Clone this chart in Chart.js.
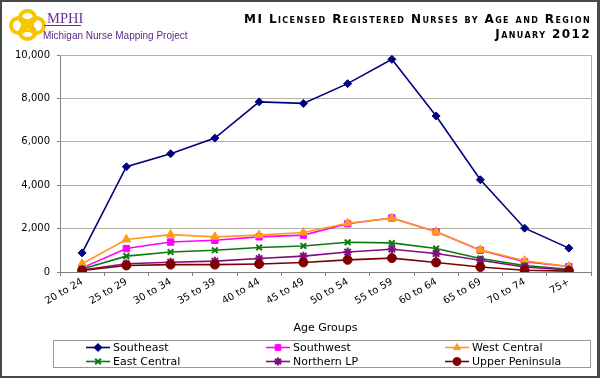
<!DOCTYPE html>
<html>
<head>
<meta charset="utf-8">
<script src="https://cdn.jsdelivr.net/npm/chart.js@4/dist/chart.umd.min.js"></script>
<style>
  html, body { margin: 0; padding: 0; background: #fff; }
  #wrap { position: relative; width: 600px; height: 378px; overflow: hidden; background: #fff; }
  #frame { position: absolute; left: 0; top: 0; width: 595px; height: 374px; border: 2px solid #4a4a4a; border-width: 2px 3px 2px 2px; box-sizing: content-box; pointer-events: none; z-index: 3; }
  #chart { position: absolute; left: 0; top: 0; }
  #logo { position: absolute; left: 9px; top: 9px; width: 38px; height: 32px; z-index: 2; }
  .ring { position: absolute; border: 4px solid #f7c600; border-radius: 50%; box-sizing: border-box; }
  .sq { position: absolute; border: 2px solid #f7c600; box-sizing: border-box; }
  #mphi { position: absolute; left: 47px; top: 10px; font-family: "Liberation Serif", serif; font-size: 14.5px; line-height: 17px; color: #6b2f94; z-index: 2; }
  #uline { position: absolute; left: 44px; top: 25px; width: 37px; height: 1px; background: #6b2f94; z-index: 2; }
  #proj { position: absolute; left: 43px; top: 30px; font-family: "Liberation Sans", Arial, sans-serif; font-size: 10px; line-height: 12px; color: #5a2a8a; z-index: 2; }
  #title { position: absolute; right: 9px; top: 12px; text-align: right; font-family: "DejaVu Sans", Verdana, sans-serif; font-weight: bold; font-variant: small-caps; font-size: 12px; line-height: 15px; color: #000; letter-spacing: 1.4px; z-index: 2; }
</style>
</head>
<body>
<div id="wrap">
  <canvas id="chart" width="600" height="378"></canvas>
  <div id="logo">
    <div class="ring" style="left:0px;top:7px;width:19px;height:19px;"></div>
    <div class="ring" style="left:18px;top:7px;width:19px;height:19px;"></div>
    <div class="ring" style="left:9px;top:0px;width:19px;height:17px;"></div>
    <div class="ring" style="left:9px;top:15px;width:19px;height:17px;"></div>
    <div class="sq" style="left:12px;top:10px;width:13px;height:13px;"></div>
  </div>
  <div id="mphi">MPHI</div>
  <div id="uline"></div>
  <div id="proj">Michigan Nurse Mapping Project</div>
  <div id="title">MI Licensed Registered Nurses by Age and Region<br>January 2012</div>
  <div id="frame"></div>
</div>
<script>
const categories = ["20 to 24","25 to 29","30 to 34","35 to 39","40 to 44","45 to 49","50 to 54","55 to 59","60 to 64","65 to 69","70 to 74","75+"];
const seriesNames = ["Southeast","Southwest","West Central","East Central","Northern LP","Upper Peninsula"];
const southeast      = [880, 4850, 5450, 6170, 7840, 7770, 8680, 9800, 7190, 4250, 2020, 1100];
const southwest      = [190, 1080, 1380, 1460, 1620, 1700, 2220, 2490, 1850, 1000, 470, 250];
const westCentral    = [380, 1500, 1720, 1620, 1700, 1820, 2250, 2480, 1850, 1020, 520, 250];
const eastCentral    = [140, 730, 920, 1000, 1130, 1200, 1370, 1340, 1080, 620, 300, 130];
const northernLP     = [90, 380, 450, 500, 620, 730, 920, 1050, 850, 540, 230, 90];
const upperPeninsula = [70, 300, 340, 340, 370, 440, 560, 640, 440, 230, 80, 40];
const yTicks = [0, 2000, 4000, 6000, 8000, 10000];

const seriesData = [southeast, southwest, westCentral, eastCentral, northernLP, upperPeninsula];
const colors = ["#00007f", "#ff00ff", "#ff9a1a", "#0c7a0c", "#7f0f7f", "#7f0000"];
const styles = ["rectRot", "rect", "triangle", "crossRot", "star", "circle"];
const radii = [4, 4.5, 5, 4, 4.5, 4.5];

const datasets = seriesNames.map((name, i) => ({
  label: name,
  data: seriesData[i],
  borderColor: colors[i],
  backgroundColor: colors[i],
  pointBackgroundColor: colors[i],
  pointBorderColor: colors[i],
  pointStyle: styles[i],
  pointRadius: radii[i],
  pointBorderWidth: (styles[i] === "crossRot" || styles[i] === "star") ? 2 : 1,
  borderWidth: 1.6,
  tension: 0,
  order: seriesNames.length - i
}));

const FONT = '"DejaVu Sans", Verdana, sans-serif';

const legendPlugin = {
  id: 'customLegend',
  afterDraw(chart) {
    const ctx = chart.ctx;
    ctx.save();
    ctx.strokeStyle = '#9a9a9a';
    ctx.lineWidth = 1;
    ctx.strokeRect(53.5, 340.5, 537, 27);
    const colX = [86, 266, 445];
    const rowY = [347.5, 361.5];
    ctx.font = '11px ' + FONT;
    ctx.textBaseline = 'middle';
    chart.data.datasets.forEach((ds, i) => {
      const x = colX[i % 3], y = rowY[Math.floor(i / 3)];
      ctx.strokeStyle = ds.borderColor;
      ctx.lineWidth = 1.6;
      ctx.beginPath(); ctx.moveTo(x, y); ctx.lineTo(x + 24, y); ctx.stroke();
      ctx.fillStyle = ds.backgroundColor;
      ctx.strokeStyle = ds.borderColor;
      ctx.lineWidth = ds.pointBorderWidth;
      Chart.helpers.drawPoint(ctx, { pointStyle: ds.pointStyle, radius: Math.min(ds.pointRadius, 4), borderWidth: ds.pointBorderWidth, rotation: 0 }, x + 12, y);
      ctx.fillStyle = '#000';
      ctx.fillText(ds.label, x + 27, y + 0.5);
    });
    ctx.restore();
  }
};

const plotBorder = {
  id: 'plotBorder',
  beforeDatasetsDraw(chart) {
    const a = chart.chartArea, ctx = chart.ctx;
    ctx.save();
    ctx.strokeStyle = '#b5b1a3';
    ctx.lineWidth = 1;
    ctx.beginPath();
    ctx.moveTo(a.left, a.top + 0.5); ctx.lineTo(a.right + 0.5, a.top + 0.5); ctx.lineTo(a.right + 0.5, a.bottom);
    ctx.stroke();
    ctx.restore();
  }
};

new Chart(document.getElementById('chart'), {
  type: 'line',
  data: { labels: categories, datasets },
  plugins: [plotBorder, legendPlugin],
  options: {
    responsive: false,
    animation: false,
    devicePixelRatio: 1,
    layout: { padding: { left: 0, right: 9, top: 55, bottom: 42 } },
    plugins: { legend: { display: false }, tooltip: { enabled: false }, title: { display: false } },
    scales: {
      x: {
        offset: true,
        grid: { display: true, drawOnChartArea: false, drawTicks: true, tickLength: 4, color: '#808080', offset: true },
        border: { display: true, color: '#808080', width: 1 },
        ticks: { color: '#000', font: { family: FONT, size: 10 }, minRotation: 30, maxRotation: 30, padding: 0, autoSkip: false },
        title: { display: true, text: 'Age Groups', color: '#000', font: { family: FONT, size: 11 }, padding: { top: 2, bottom: 1 } },
        afterFit(scale) { scale.height = 64; }
      },
      y: {
        min: 0, max: 10000,
        afterBuildTicks(scale) { scale.ticks = yTicks.map(v => ({ value: v })); },
        grid: { color: '#b5b1a3', lineWidth: 1, drawTicks: true, tickLength: 3, tickColor: '#808080' },
        border: { display: true, color: '#808080', width: 1 },
        ticks: { color: '#000', font: { family: FONT, size: 10 }, padding: 7,
          callback: v => v.toLocaleString('en-US') },
        afterFit(scale) { scale.width = 60; }
      }
    }
  }
});
</script>
</body>
</html>
